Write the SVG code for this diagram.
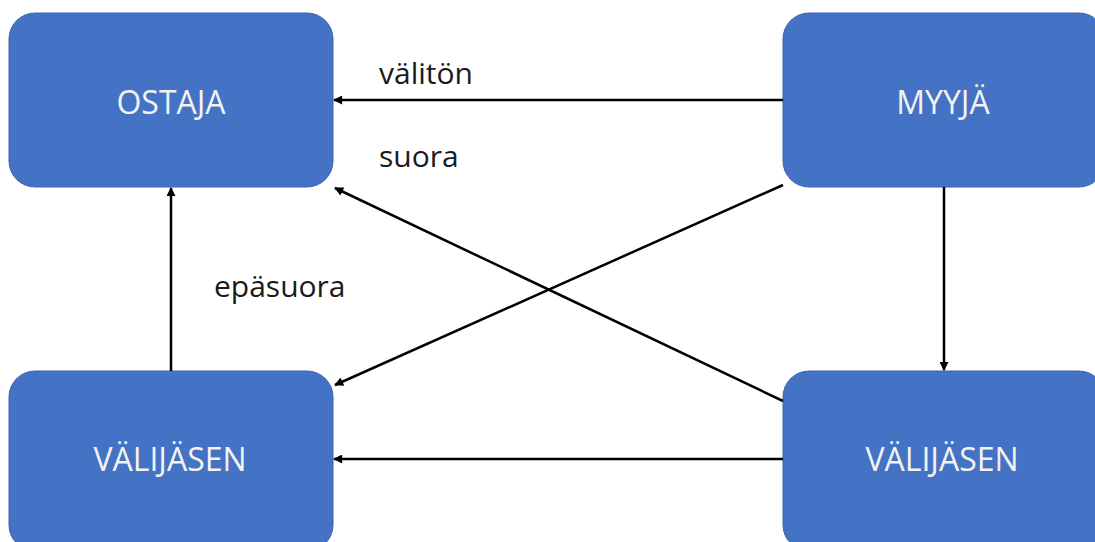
<svg xmlns="http://www.w3.org/2000/svg" width="1095" height="542" viewBox="0 0 1095 542">
<style>
.node rect{fill:#4472C4;stroke:#3b64b0;stroke-width:1}
.node text{fill:#f2f2f2;font-family:"Open Sans","Noto Sans",sans-serif;font-size:32px;text-anchor:middle}
.edge{stroke:#000;stroke-width:2.5;fill:none;marker-end:url(#ah)}
.lbl{fill:#1a1a1a;font-family:"Open Sans","Noto Sans",sans-serif;font-size:30px}
</style>
<defs>
<marker id="ah" viewBox="0 0 10 10" refX="9" refY="5" markerWidth="10" markerHeight="9" markerUnits="userSpaceOnUse" orient="auto">
<path d="M0,0 L10,5 L0,10 z" fill="#000"/>
</marker>
</defs>
<rect width="1095" height="542" fill="#fff"/>
<g id="ostaja" class="node"><rect x="9" y="13" width="324" height="174" rx="26"/><text x="171" y="114">OSTAJA</text></g>
<g id="myyja" class="node"><rect x="783" y="13" width="322" height="174" rx="26"/><text x="943" y="114">MYYJÄ</text></g>
<g id="valijasen1" class="node"><rect x="9" y="371" width="324" height="180" rx="26"/><text x="170" y="471">VÄLIJÄSEN</text></g>
<g id="valijasen2" class="node"><rect x="783" y="371" width="322" height="180" rx="26"/><text x="942" y="471">VÄLIJÄSEN</text></g>
<g id="connectors">
<line class="edge" x1="783" y1="100" x2="334" y2="100"/>
<line class="edge" x1="783" y1="401" x2="335" y2="188"/>
<line class="edge" x1="783" y1="185" x2="335" y2="385"/>
<line class="edge" x1="944" y1="187" x2="944" y2="370"/>
<line class="edge" x1="783" y1="459" x2="334" y2="459"/>
<line class="edge" x1="171" y1="371" x2="171" y2="188"/>
<text class="lbl" x="379" y="84">välitön</text>
<text class="lbl" x="379" y="167">suora</text>
<text class="lbl" x="214" y="297">epäsuora</text>
</g>
</svg>
